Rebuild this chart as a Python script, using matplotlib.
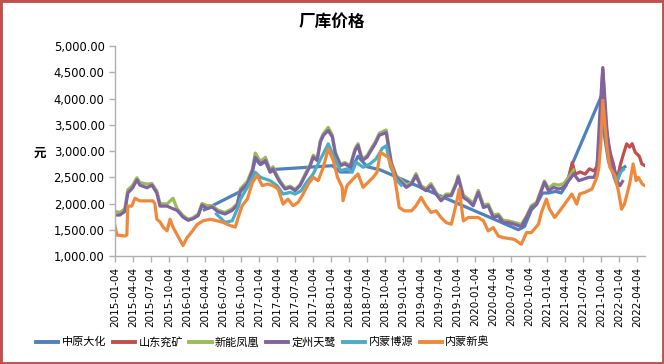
import matplotlib
matplotlib.use("Agg")
import matplotlib.pyplot as plt
import matplotlib.dates as mdates
from matplotlib.patches import Rectangle
from matplotlib.ticker import FuncFormatter, FixedLocator
import numpy as np
import pandas as pd

plt.rcParams['font.family'] = ['Noto Sans CJK SC', 'DejaVu Sans']

title = "厂库价格"
ylabel = "元"
series_names = ["中原大化", "山东兖矿", "新能凤凰", "定州天鹭", "内蒙博源", "内蒙新奥"]
colors = ["#4F81BD", "#C0504D", "#9BBB59", "#8064A2", "#4BACC6", "#F0883A"]

# 中原大化
zy_dates = ["2016-04-01", "2016-10-01", "2016-11-05", "2016-12-01", "2016-12-15", "2017-01-10",
            "2017-02-05", "2017-03-01", "2017-03-25", "2018-01-10", "2018-02-20",
            "2018-04-10", "2018-05-20", "2018-07-05", "2018-09-10", "2020-08-10", "2020-09-10",
            "2020-10-15", "2020-11-10", "2020-12-10", "2021-01-10", "2021-02-15", "2021-03-15",
            "2021-04-10", "2021-05-10", "2021-10-05", "2021-10-20", "2021-11-10", "2021-12-01",
            "2021-12-20", "2022-01-15", "2022-02-01"]
zy_vals = [1880, 2230, 2360, 2610, 2850, 2740,
           2800, 2600, 2650, 2720, 2600,
           2600, 2900, 2700, 2640, 1500, 1560,
           1880, 1980, 2200, 2200, 2230, 2200,
           2350, 2750, 4050, 3300, 2800, 2600,
           2380, 2660, 2700]

# 山东兖矿
sd_dates = ["2021-03-28", "2021-04-22", "2021-05-10", "2021-05-25", "2021-06-20", "2021-07-15",
            "2021-08-05", "2021-08-28", "2021-09-12", "2021-09-25", "2021-10-12", "2021-10-25",
            "2021-11-05", "2021-11-20", "2021-12-05", "2021-12-20", "2022-01-01", "2022-01-10",
            "2022-01-25", "2022-02-10", "2022-02-25", "2022-03-10", "2022-03-25", "2022-04-15",
            "2022-04-28", "2022-05-14"]
sd_vals = [2330, 2470, 2780, 2560, 2600, 2560,
           2660, 2620, 2700, 3200, 4550, 3600,
           3264, 2945, 2754, 2467, 2600, 2754,
           2945, 3137, 3073, 3140, 2977, 2900,
           2754, 2720]

# 定州天鹭
dz_dates = ["2015-01-04", "2015-01-29", "2015-02-23", "2015-03-10", "2015-04-04", "2015-04-25",
            "2015-05-10", "2015-06-15", "2015-07-10", "2015-08-04", "2015-08-20", "2015-09-25",
            "2015-10-25", "2015-11-15", "2015-12-15", "2016-01-10", "2016-02-04", "2016-03-01",
            "2016-03-20", "2016-04-15", "2016-05-10", "2016-06-10", "2016-07-15", "2016-08-20",
            "2016-09-15", "2016-10-01", "2016-11-05", "2016-12-01", "2016-12-15", "2017-01-10",
            "2017-02-05", "2017-03-01", "2017-03-15", "2017-04-05", "2017-04-20", "2017-05-15",
            "2017-06-10", "2017-07-05", "2017-07-30", "2017-08-25", "2017-09-20", "2017-10-05",
            "2017-10-25", "2017-11-10", "2017-11-25", "2017-12-20", "2018-01-10", "2018-01-25",
            "2018-02-20", "2018-03-15", "2018-04-10", "2018-05-05", "2018-05-20", "2018-06-10",
            "2018-07-05", "2018-07-20", "2018-08-15", "2018-09-05", "2018-10-10", "2018-10-25",
            "2018-11-05", "2018-11-30", "2018-12-25", "2019-01-20", "2019-02-15", "2019-03-10",
            "2019-04-05", "2019-04-30", "2019-05-25", "2019-06-20", "2019-07-15", "2019-08-10",
            "2019-09-05", "2019-09-30", "2019-10-10", "2019-11-05", "2019-11-30", "2019-12-25",
            "2020-01-20", "2020-02-15", "2020-03-10", "2020-04-05", "2020-04-30", "2020-05-25",
            "2020-06-20", "2020-07-20", "2020-08-25", "2020-09-20", "2020-10-15", "2020-11-10",
            "2020-12-05", "2020-12-20", "2021-01-10", "2021-02-05", "2021-03-02", "2021-03-28",
            "2021-04-22", "2021-05-18", "2021-06-12", "2021-07-08", "2021-08-02", "2021-08-28",
            "2021-09-12", "2021-09-27", "2021-10-12", "2021-11-02", "2021-11-17", "2021-12-07",
            "2021-12-22", "2022-01-07", "2022-01-20"]
dz_vals = [1780, 1780, 1850, 2200, 2300, 2450,
           2350, 2300, 2350, 2200, 1950, 1950,
           1900, 1870, 1740, 1680, 1710, 1770,
           1970, 1900, 1935, 1840, 1800, 1870,
           1970, 2244, 2370, 2627, 2880, 2754,
           2818, 2595, 2658, 2499, 2403, 2276,
           2308, 2244, 2340, 2531, 2722, 2882,
           2818, 3169, 3296, 3392, 3265, 2946,
           2722, 2754, 2690, 3010, 3105, 2818,
           2882, 2978, 3137, 3300, 3350, 3000,
           2754, 2499, 2403, 2307, 2371, 2530,
           2307, 2243, 2339, 2180, 2052, 2148,
           2148, 2371, 2499, 2116, 2052, 1956,
           2212, 1924, 1956, 1733, 1765, 1637,
           1637, 1606, 1560, 1733, 1925, 1988,
           2244, 2403, 2244, 2307, 2275, 2307,
           2435, 2563, 2435, 2467, 2499, 2499,
           2626, 3711, 4590, 3392, 2881, 2690,
           2435, 2339, 2420]

# 新能凤凰 (same report dates as 定州天鹭, ends 2021-05)
xn_dates = dz_dates[:98]
xn_vals = [1850, 1830, 1900, 2260, 2350, 2490,
           2400, 2370, 2380, 2240, 2000, 1990,
           2100, 1900, 1770, 1700, 1730, 1800,
           2000, 1960, 1960, 1870, 1830, 1900,
           2000, 2280, 2420, 2660, 2960, 2800,
           2880, 2630, 2700, 2530, 2430, 2300,
           2330, 2270, 2360, 2560, 2750, 2920,
           2850, 3200, 3330, 3450, 3300, 2980,
           2750, 2780, 2720, 3040, 3140, 2850,
           2910, 3010, 3170, 3340, 3400, 3040,
           2790, 2530, 2440, 2340, 2400, 2570,
           2340, 2280, 2380, 2210, 2090, 2180,
           2180, 2400, 2530, 2160, 2090, 2000,
           2250, 1970, 1990, 1780, 1800, 1680,
           1670, 1640, 1600, 1760, 1960, 2020,
           2280, 2430, 2290, 2370, 2350, 2380,
           2500, 2640]

# 内蒙博源
by_dates = ["2016-06-01", "2016-07-15", "2016-08-20", "2016-09-20", "2016-10-01", "2016-11-05",
            "2016-12-15", "2017-01-10", "2017-03-01", "2017-04-05", "2017-05-05", "2017-06-10",
            "2017-07-05", "2017-08-05", "2017-09-01", "2017-10-05", "2017-10-25", "2017-11-25",
            "2017-12-20", "2018-01-15", "2018-02-20", "2018-03-25", "2018-04-20", "2018-05-10",
            "2018-06-15", "2018-07-20", "2018-08-20", "2018-09-20", "2018-10-10", "2018-11-01",
            "2018-12-01", "2018-12-25", "2019-06-01",
            "2021-12-10", "2021-12-25", "2022-01-10", "2022-01-25"]
by_vals = [1800, 1640, 1670, 1935, 2084, 2308,
           2595, 2499, 2435, 2340, 2180, 2212,
           2180, 2244, 2403, 2563, 2722, 2946,
           3137, 2914, 2627, 2658, 2595, 2786,
           2690, 2754, 2850, 3050, 3100, 2700,
           2450, 2350, np.nan,
           2500, 2450, 2600, 2650]

# 内蒙新奥
xa_dates = ["2015-01-04", "2015-01-14", "2015-02-23", "2015-03-05", "2015-03-10", "2015-03-30",
            "2015-04-15", "2015-05-10", "2015-07-15", "2015-07-25", "2015-08-04", "2015-08-20",
            "2015-09-05", "2015-09-25", "2015-10-10", "2015-10-25", "2015-11-30", "2015-12-15",
            "2016-01-04", "2016-01-20", "2016-02-25", "2016-03-25", "2016-05-01", "2016-06-05",
            "2016-07-05", "2016-08-10", "2016-09-05", "2016-09-20", "2016-10-10", "2016-11-05",
            "2016-12-01", "2016-12-25", "2017-01-20", "2017-02-15", "2017-03-15", "2017-04-10",
            "2017-05-05", "2017-05-30", "2017-06-25", "2017-07-20", "2017-08-15", "2017-09-10",
            "2017-10-05", "2017-10-30", "2017-11-25", "2017-12-20", "2018-01-15", "2018-02-05",
            "2018-03-01", "2018-03-05", "2018-03-25", "2018-04-25", "2018-05-20", "2018-06-15",
            "2018-07-10", "2018-08-05", "2018-08-25", "2018-09-10", "2018-10-20", "2018-11-15",
            "2018-11-30", "2018-12-15", "2019-01-10", "2019-02-15", "2019-03-10", "2019-04-05",
            "2019-04-30", "2019-05-25", "2019-06-20", "2019-07-15", "2019-08-10", "2019-09-05",
            "2019-09-30", "2019-10-15", "2019-11-05", "2019-11-30", "2020-01-20", "2020-02-15",
            "2020-03-10", "2020-04-05", "2020-04-30", "2020-05-25", "2020-07-20", "2020-08-25",
            "2020-09-20", "2020-10-15", "2020-11-20", "2020-12-05", "2020-12-30", "2021-01-15",
            "2021-02-10", "2021-03-08", "2021-04-02", "2021-05-08", "2021-06-02", "2021-06-17",
            "2021-07-13", "2021-08-18", "2021-09-12", "2021-09-22", "2021-10-02", "2021-10-12",
            "2021-11-02", "2021-11-17", "2021-12-12", "2021-12-30", "2022-01-15", "2022-01-30",
            "2022-02-25", "2022-03-15", "2022-03-30", "2022-04-10", "2022-04-30", "2022-05-14"]
xa_vals = [1570, 1400, 1380, 1400, 1950, 1950,
           2100, 2050, 2050, 2000, 1700, 1650,
           1550, 1480, 1700, 1550, 1300, 1200,
           1350, 1420, 1600, 1670, 1700, 1670,
           1640, 1580, 1550, 1740, 1960, 2084,
           2403, 2531, 2340, 2371, 2340, 2276,
           1988, 2084, 1957, 2020, 2180, 2371,
           2499, 2435, 2690, 3041, 2818, 2499,
           2308, 2052, 2340, 2467, 2563, 2308,
           2403, 2499, 2600, 2977, 2881, 2626,
           2307, 1924, 1860, 1860, 1956, 2116,
           1956, 1829, 1860, 1733, 1637, 1605,
           1988, 2275, 1669, 1733, 1733, 1669,
           1478, 1541, 1382, 1350, 1318, 1223,
           1446, 1446, 1606, 1829, 2084, 1893,
           1733, 1861, 1988, 2180, 1988, 2180,
           2212, 2275, 2500, 2690, 3137, 3966,
           3073, 2690, 2531, 2244, 1893, 1988,
           2371, 2754, 2435, 2499, 2371, 2339]

tick_labels = [f"{y}-{m:02d}-04" for y in range(2015, 2023) for m in (1, 4, 7, 10)
               if not (y == 2022 and m > 4)]

all_dates = [zy_dates, sd_dates, xn_dates, dz_dates, by_dates, xa_dates]
all_vals = [zy_vals, sd_vals, xn_vals, dz_vals, by_vals, xa_vals]

fig = plt.figure(figsize=(6.64, 3.64), dpi=100)
ax = fig.add_axes([115/664, 1-256/364, (645-115)/664, (256-46)/364])

for name, c, d, v in zip(series_names, colors, all_dates, all_vals):
    ax.plot(pd.to_datetime(d), v, color=c, lw=2.3, label=name, solid_joinstyle='round')

ax.set_ylim(1000, 5000)
ax.set_yticks(np.arange(1000, 5001, 500))
ax.yaxis.set_major_formatter(FuncFormatter(lambda v, p: f"{v:,.2f}"))
ax.set_xlim(pd.Timestamp("2015-01-04"), pd.Timestamp("2022-05-14"))
tick_pos = mdates.date2num(pd.to_datetime(tick_labels))
ax.xaxis.set_major_locator(FixedLocator(tick_pos))
ax.set_xticklabels(tick_labels, rotation=90, fontsize=7.5, family=['DejaVu Sans'])
for lab in ax.get_yticklabels():
    lab.set_fontsize(8.3)
    lab.set_family(['DejaVu Sans'])

for s in ['top', 'right']:
    ax.spines[s].set_visible(False)
for s in ['left', 'bottom']:
    ax.spines[s].set_color('#B0B0B0')
    ax.spines[s].set_linewidth(1)
ax.tick_params(axis='both', colors='#B0B0B0', labelcolor='black', direction='out', length=4, width=1)

fig.text(332/664, 1-22/364, title, ha='center', va='center', fontsize=12, fontweight='bold')
fig.text(40/664, 1-153/364, ylabel, ha='center', va='center', fontsize=9, fontweight='bold')

leg = fig.legend(loc='center left', bbox_to_anchor=(26/664, 1-342/364), ncol=6, frameon=False,
                 fontsize=8, handlelength=2.0, columnspacing=0.6, handletextpad=0.3)
for h in leg.get_lines():
    h.set_linewidth(2.8)

fig.add_artist(Rectangle((0, 0), 1, 1, transform=fig.transFigure, fill=False,
                         edgecolor='#C0504D', lw=3.5))

fig.savefig("out.png", dpi=100, facecolor='white')
